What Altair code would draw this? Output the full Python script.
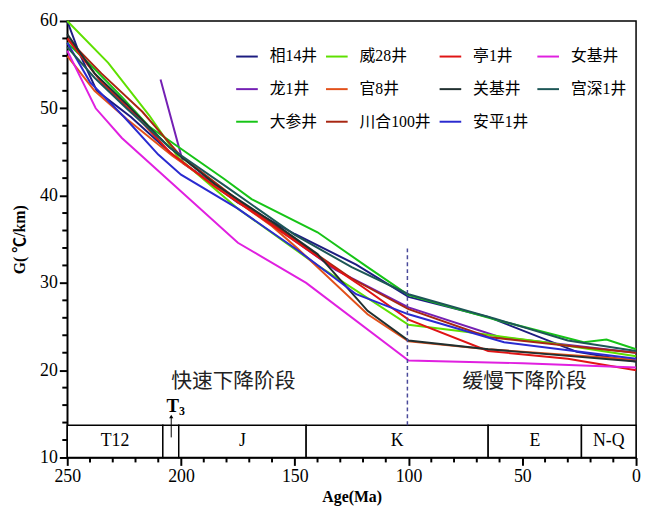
import altair as alt
import pandas as pd

FONT = "Times New Roman, Liberation Serif, Noto Sans CJK SC"

# legend order (the legend fills column by column, 3 rows)
wells = ["相14井", "龙1井", "大参井", "威28井", "官8井", "川合100井", "亭1井", "关基井", "安平1井", "女基井", "宫深1井"]
colors = ["#1c1c80", "#7420b4", "#16c416", "#5ee000", "#e2501a", "#a82612", "#e01414", "#203030", "#2a2ad0", "#e020e0", "#1d5656"]

ages = {
    "相14井": [250, 245, 237, 222, 203, 175, 150, 123, 100, 65, 26, 0],
    "威28井": [250, 232, 214, 201, 175, 140, 100, 75, 40, 0],
    "亭1井": [250, 235, 220, 205, 185, 165, 140, 120, 100, 65, 30, 0],
    "女基井": [250, 237.5, 226, 175, 145, 100, 50, 0],
    "龙1井": [209, 199, 170, 132, 100, 60, 0],
    "官8井": [250, 238, 224, 204, 180, 160, 149, 118, 100, 65, 0],
    "关基井": [250, 238, 224, 205, 185, 160, 140, 118, 100, 65, 0],
    "宫深1井": [250, 238, 224, 205, 180, 150, 125, 100, 62, 30, 0],
    "大参井": [250, 238, 226, 214, 181, 169, 140, 118, 100, 62, 23, 13, 0],
    "川合100井": [250, 235, 217, 200, 175, 150, 125, 100, 65, 30, 0],
    "安平1井": [250, 240, 225, 210, 200, 175, 149, 123, 100, 58, 0],
}
grad = {
    "相14井": [60, 56.5, 52, 49, 44.5, 39.2, 35.6, 32.1, 28.4, 26.1, 22.1, 21.0],
    "威28井": [60, 55.2, 49.2, 44.3, 38.5, 32.0, 25.2, 24.4, 23.2, 21.6],
    "亭1井": [58, 53, 49.2, 45, 41, 37.5, 33, 29.5, 25.8, 22.2, 21.3, 20.0],
    "女基井": [56.6, 50, 46.6, 34.6, 30.0, 21.1, 20.8, 20.3],
    "龙1井": [53.3, 43.7, 38.5, 31.5, 27.2, 23.8, 22.0],
    "官8井": [56, 52, 48.8, 44.6, 40.2, 36.5, 34.0, 26.4, 23.3, 22.4, 21.2],
    "关基井": [58.5, 54, 50.5, 45.5, 41.3, 37, 33.3, 26.8, 23.4, 22.4, 21.0],
    "宫深1井": [57, 53.5, 50, 45.5, 41, 35.5, 31.8, 28.7, 25.9, 23.4, 22.2],
    "大参井": [57.5, 54.5, 51.3, 47.9, 41.9, 39.6, 35.8, 31.8, 28.6, 25.8, 23.2, 23.5, 22.4],
    "川合100井": [58, 54, 49.6, 44.5, 39.5, 35, 30.5, 27.0, 23.8, 22.8, 22.0],
    "安平1井": [57.5, 53, 49, 44.7, 42.4, 38.5, 33.8, 28.7, 26.4, 23.2, 21.3],
}

period_names = ["T12", "", "J", "K", "E", "N-Q"]
period_start = [250, 208, 201, 145, 65, 24]
period_end = [208, 201, 145, 65, 24, 0]
box_bottom = 10
box_top = 13.7

stage_labels = ["快速下降阶段", "缓慢下降阶段"]
stage_age = [177, 49]
stage_g = [18.6, 18.6]

x_major = [0, 50, 100, 150, 200, 250]
x_minor = [v for v in range(0, 251, 10) if v % 50 != 0]
y_major = [10, 20, 30, 40, 50, 60]
y_minor = [v for v in range(10, 61, 2) if v % 10 != 0]

PLOT_W, PLOT_H = 576, 442

rows = []
for w in wells:
    for i, (a, g) in enumerate(zip(ages[w], grad[w])):
        rows.append({"well": w, "age": a, "G": g, "idx": i})
df = pd.DataFrame(rows)

xscale = alt.Scale(domain=[0, 250], reverse=True, nice=False)
yscale = alt.Scale(domain=[10, 60], nice=False)

xaxis = alt.Axis(
    values=x_major, ticks=True, tickSize=8, tickWidth=2, tickColor="black", tickOpacity=1,
    labelOverlap=False,
    title="Age(Ma)", titleFontWeight="bold", titleFontSize=16, titlePadding=4,
    labelFontSize=18, labelPadding=2, labelFlush=False,
)
yaxis = alt.Axis(
    values=y_major, ticks=True, tickSize=8, tickWidth=2, tickColor="black", tickOpacity=1,
    labelOverlap=False,
    title="G( ℃/km)", titleFontWeight="bold", titleFontSize=16, titlePadding=12,
    labelFontSize=18, labelPadding=2,
)

X = lambda f: alt.X(f, scale=xscale, axis=xaxis)
Y = lambda f: alt.Y(f, scale=yscale, axis=yaxis)

lines = alt.Chart(df).mark_line(strokeWidth=2).encode(
    x=X("age:Q"),
    y=Y("G:Q"),
    color=alt.Color(
        "well:N",
        scale=alt.Scale(domain=wells, range=colors),
        legend=alt.Legend(
            title=None, orient="none", legendX=170, legendY=24, columns=4,
            symbolType="stroke", symbolSize=480, symbolStrokeWidth=2,
            labelFontSize=16, labelFont=FONT, rowPadding=13, columnPadding=4,
            labelOffset=11, labelLimit=200,
        ),
    ),
    order="idx:Q",
    detail="well:N",
)

# minor tick marks, drawn from the tick value lists through the scales
def xticks(vals, length):
    return alt.Chart(pd.DataFrame({"v": vals})).mark_rule(
        color="black", strokeWidth=2, clip=False, opacity=1
    ).encode(x=X("v:Q"), y=alt.value(PLOT_H), y2=alt.value(PLOT_H + length))

def yticks(vals, length):
    return alt.Chart(pd.DataFrame({"v": vals})).mark_rule(
        color="black", strokeWidth=2, clip=False, opacity=1
    ).encode(y=Y("v:Q"), x=alt.value(0), x2=alt.value(-length))

ticks = [xticks(x_minor, 5), yticks(y_minor, 5)]

pdf = pd.DataFrame({
    "name": period_names, "start": period_start, "end": period_end,
    "mid": [(s + e) / 2 for s, e in zip(period_start, period_end)],
    "y0": [box_bottom] * 6, "y1": [box_top] * 6, "ym": [(box_bottom + box_top) / 2] * 6,
})
boxes = alt.Chart(pdf).mark_rect(fill="white", stroke="black", strokeWidth=1.5).encode(
    x=X("start:Q"), x2="end:Q", y=Y("y0:Q"), y2="y1:Q",
)
box_text = alt.Chart(pdf).mark_text(fontSize=18, font=FONT, color="black").encode(
    x=X("mid:Q"), y=Y("ym:Q"), text="name:N",
)

sdf = pd.DataFrame({"t": stage_labels, "age": stage_age, "G": stage_g})
stage_text = alt.Chart(sdf).mark_text(fontSize=21, font=FONT, color="#222222").encode(
    x=X("age:Q"), y=Y("G:Q"), text="t:N",
)

ddf = pd.DataFrame({"age": [100.5], "g0": [box_top], "g1": [34.2]})
dashed = alt.Chart(ddf).mark_rule(color="#4a4a9a", strokeDash=[4, 3], strokeWidth=1.5).encode(
    x=X("age:Q"), y=Y("g0:Q"), y2="g1:Q",
)

adf = pd.DataFrame({"age": [204.3], "g0": [12.3], "g1": [14.7]})
arrow = alt.Chart(adf).mark_rule(color="black", strokeWidth=1).encode(
    x=X("age:Q"), y=Y("g0:Q"), y2="g1:Q",
)
head = alt.Chart(adf).mark_point(shape="triangle-up", filled=True, color="black", size=18, opacity=1).encode(
    x=X("age:Q"), y=Y("g1:Q"),
)
tdf = pd.DataFrame({"t": ["T", "3"], "age": [203.6, 199.6], "G": [15.9, 15.3], "fs": [19, 12]})
t3 = alt.Chart(tdf).mark_text(font=FONT, fontWeight="bold", color="black").encode(
    x=X("age:Q"), y=Y("G:Q"), text="t:N",
    size=alt.Size("fs:Q", scale=None, legend=None),
)

chart = alt.layer(lines, boxes, box_text, dashed, stage_text, arrow, head, t3, *ticks).properties(
    width=PLOT_W, height=PLOT_H, autosize="none",
    padding={"left": 60, "top": 10, "right": 5, "bottom": 48},
).configure_view(stroke="black", strokeWidth=1.5).configure_axis(
    domainColor="black", domainWidth=1.5,
    labelColor="black", titleColor="black", grid=False,
    labelFont=FONT, titleFont=FONT,
).configure_text(font=FONT)

chart.save("out.html", embed_options={"renderer": "svg", "actions": False})
